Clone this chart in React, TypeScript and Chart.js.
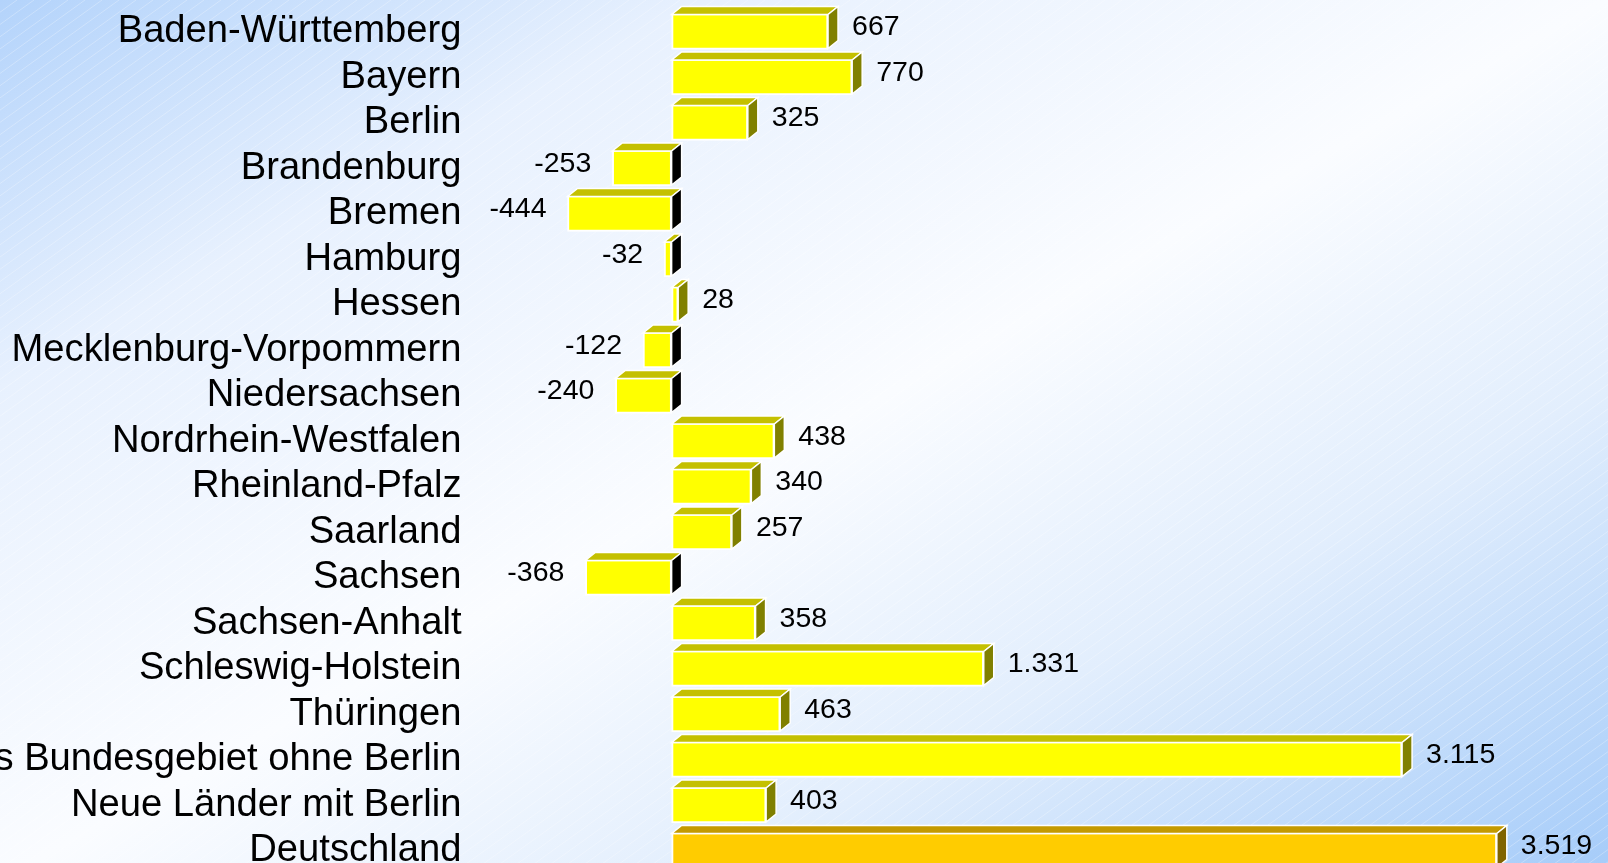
import React, { useEffect, useRef } from "react";
import { Chart, registerables } from "chart.js";

Chart.register(...registerables);

const categories: string[] = [
  "Baden-Württemberg",
  "Bayern",
  "Berlin",
  "Brandenburg",
  "Bremen",
  "Hamburg",
  "Hessen",
  "Mecklenburg-Vorpommern",
  "Niedersachsen",
  "Nordrhein-Westfalen",
  "Rheinland-Pfalz",
  "Saarland",
  "Sachsen",
  "Sachsen-Anhalt",
  "Schleswig-Holstein",
  "Thüringen",
  "Früheres Bundesgebiet ohne Berlin",
  "Neue Länder mit Berlin",
  "Deutschland",
];

const values: number[] = [
  667, 770, 325, -253, -444, -32, 28, -122, -240, 438, 340, 257, -368, 358,
  1331, 463, 3115, 403, 3519,
];

const highlightCategory = "Deutschland";

const FONT = "'Liberation Sans', Arial, sans-serif";
const DX = 10;
const DY = 8;

const fmt = (v: number): string => {
  const s = Math.abs(v)
    .toString()
    .replace(/\B(?=(\d{3})+(?!\d))/g, ".");
  return (v < 0 ? "-" : "") + s;
};

const isHi = (i: number) => categories[i] === highlightCategory;

const frontColor = (i: number) => (isHi(i) ? "#FFCC00" : "#FFFF00");
const topColor = (i: number) => (isHi(i) ? "#C49A00" : "#C4C000");
const sideColor = (i: number, v: number) =>
  v < 0 ? "#000000" : isHi(i) ? "#806400" : "#808000";

const bgPlugin = {
  id: "bgPlugin",
  beforeDraw(chart: any) {
    const { ctx, width, height } = chart;
    ctx.save();
    ctx.save();
    ctx.scale(width, height);
    const g = ctx.createLinearGradient(0, 0, 1, 1);
    g.addColorStop(0, "#b3d3fb");
    g.addColorStop(0.22, "#e8f1fe");
    g.addColorStop(0.5, "#fafcff");
    g.addColorStop(0.72, "#e2eefd");
    g.addColorStop(1, "#a4cbf9");
    ctx.fillStyle = g;
    ctx.fillRect(0, 0, 1, 1);
    ctx.restore();
    // subtle diagonal hatching
    ctx.strokeStyle = "rgba(255,255,255,0.28)";
    ctx.lineWidth = 1;
    const slope = 0.72;
    const step = 17;
    ctx.beginPath();
    for (let x0 = -height / slope; x0 < width + 10; x0 += step) {
      ctx.moveTo(x0, height);
      ctx.lineTo(x0 + height / slope, 0);
    }
    ctx.stroke();
    ctx.restore();
  },
};

const box3dPlugin = {
  id: "box3dPlugin",
  afterDatasetsDraw(chart: any) {
    const { ctx } = chart;
    const meta = chart.getDatasetMeta(0);
    ctx.save();
    ctx.lineWidth = 1.5;
    ctx.strokeStyle = "#ffffff";
    ctx.lineJoin = "miter";
    meta.data.forEach((bar: any, i: number) => {
      const v = values[i];
      const p = bar.getProps(["x", "y", "base", "height"], true);
      const top = p.y - p.height / 2 + 1;
      const bottom = p.y + p.height / 2 - 1;
      const left = Math.min(p.x, p.base);
      const right = Math.max(p.x, p.base);
      // top face
      ctx.beginPath();
      ctx.moveTo(left, top);
      ctx.lineTo(left + DX, top - DY);
      ctx.lineTo(right + DX, top - DY);
      ctx.lineTo(right, top);
      ctx.closePath();
      ctx.fillStyle = topColor(i);
      ctx.fill();
      ctx.stroke();
      // side face
      ctx.beginPath();
      ctx.moveTo(right, top);
      ctx.lineTo(right + DX, top - DY);
      ctx.lineTo(right + DX, bottom - DY);
      ctx.lineTo(right, bottom);
      ctx.closePath();
      ctx.fillStyle = sideColor(i, v);
      ctx.fill();
      ctx.stroke();
    });
    // value labels
    ctx.fillStyle = "#000000";
    ctx.font = `28.5px ${FONT}`;
    ctx.textBaseline = "middle";
    meta.data.forEach((bar: any, i: number) => {
      const v = values[i];
      const p = bar.getProps(["x", "y", "base"], true);
      const yy = p.y - 4;
      if (v >= 0) {
        ctx.textAlign = "left";
        ctx.fillText(fmt(v), p.x + DX + 14, yy);
      } else {
        ctx.textAlign = "right";
        ctx.fillText(fmt(v), p.x - 21, yy);
      }
    });
    ctx.restore();
  },
};

export default function App() {
  const ref = useRef<HTMLCanvasElement | null>(null);

  useEffect(() => {
    if (!ref.current) return;
    const chart = new Chart(ref.current, {
      type: "bar",
      data: {
        labels: categories,
        datasets: [
          {
            data: values,
            backgroundColor: categories.map((_, i) => frontColor(i)),
            borderColor: "#ffffff",
            borderWidth: 2,
            borderSkipped: false,
            barThickness: 36,
          },
        ],
      },
      options: {
        indexAxis: "y",
        animation: false,
        responsive: false,
        events: [],
        layout: { padding: { left: 0, right: 8, top: 8.75, bottom: 6.75 } },
        plugins: {
          legend: { display: false },
          tooltip: { enabled: false },
          title: { display: false },
        },
        scales: {
          x: {
            display: false,
            min: -476,
            max: 3959,
          },
          y: {
            grid: { display: false, drawTicks: false },
            border: { display: false },
            afterFit: (scale: any) => {
              scale.width = 560;
              scale.paddingTop = 0;
              scale.paddingBottom = 0;
            },
            ticks: {
              autoSkip: false,
              padding: 98.5,
              color: "#000000",
              font: { size: 38.2, family: FONT },
            },
          },
        },
      },
      plugins: [bgPlugin, box3dPlugin],
    });
    return () => chart.destroy();
  }, []);

  return (
    <div
      style={{
        position: "fixed",
        left: 0,
        top: 0,
        width: 1608,
        height: 863,
        overflow: "hidden",
      }}
    >
      <canvas ref={ref} width={1608} height={880} style={{ display: "block" }} />
    </div>
  );
}
